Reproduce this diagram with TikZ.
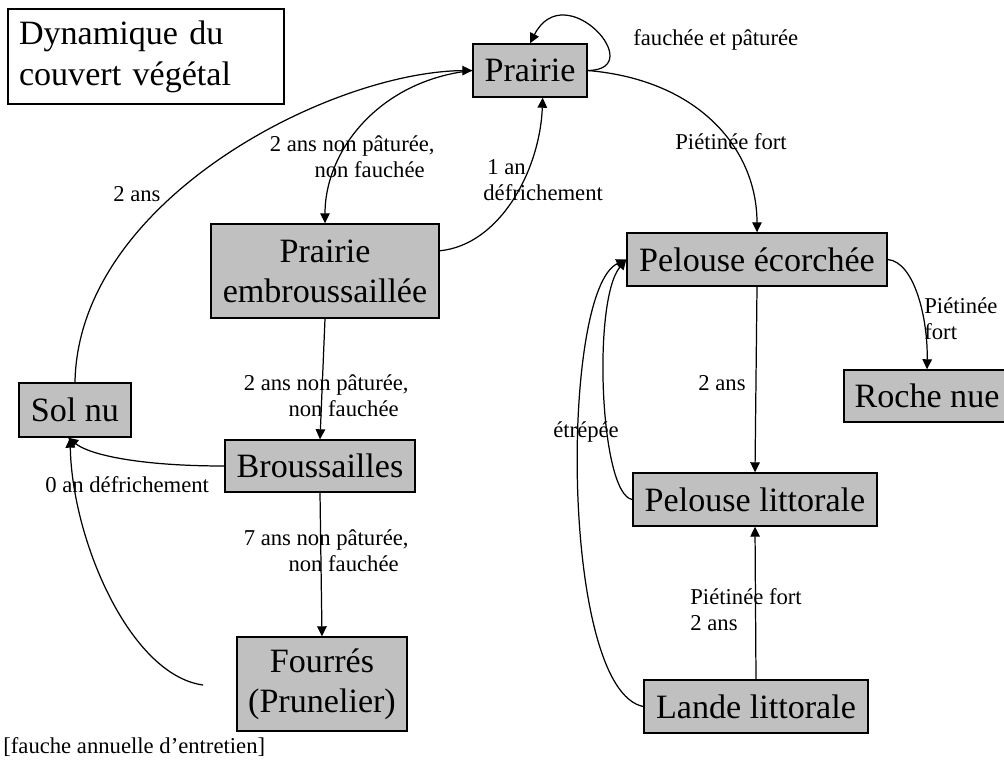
\documentclass[tikz,border=0pt]{standalone}
\usepackage{fontspec}
\setmainfont{Liberation Serif}
\usetikzlibrary{arrows.meta}
\definecolor{gris}{RGB}{192,192,192}

\begin{document}
\begin{tikzpicture}[x = 0.02cm, y = -0.02cm,
  etat/.style = {draw, fill = gris, line width = 0.8pt, inner sep = 0pt, align = center,
                 font = \fontsize{19.4}{22.8}\selectfont},
  lbl/.style = {inner sep = 0pt, font = \fontsize{12.9}{14.8}\selectfont},
  fl/.style = {line width = 0.7pt, -{Triangle[length = 5.7pt, width = 5.4pt]}}]
\useasboundingbox (0, 0) rectangle (1004, 760);
\clip (0, 0) rectangle (1004, 760);

\node[draw, line width = 0.8pt, minimum width = 5.52cm, minimum height = 1.9cm, text width = 5.08cm,
      inner xsep = 0.22cm, align = left, font = \fontsize{19.4}{23.3}\selectfont]
      (titre) at (146, 56.5) {Dynamique du\\couvert végétal};

\node[etat, minimum width = 2.28cm, minimum height = 1.06cm] (prairie)  at (530, 70.5)  {Prairie};
\node[etat, minimum width = 4.56cm, minimum height = 1.88cm] (embrous)  at (325, 271)   {Prairie\\embroussaillée};
\node[etat, minimum width = 5.2cm,  minimum height = 1.06cm] (ecorchee) at (757, 259.5) {Pelouse écorchée};
\node[etat, minimum width = 3.32cm, minimum height = 1.04cm] (roche)    at (927, 396)   {Roche nue};
\node[etat, minimum width = 2.24cm, minimum height = 1.08cm] (solnu)    at (75, 410)    {Sol nu};
\node[etat, minimum width = 3.8cm,  minimum height = 1.04cm] (brous)    at (320, 466)   {Broussailles};
\node[etat, minimum width = 3.4cm,  minimum height = 1.88cm] (fourres)  at (322, 684)   {Fourrés\\(Prunelier)};
\node[etat, minimum width = 4.88cm, minimum height = 1.06cm] (pelittor) at (755, 499.5) {Pelouse littorale};
\node[etat, minimum width = 4.48cm, minimum height = 1.06cm] (lande)    at (756, 706.5) {Lande littorale};
\coordinate (fourresG) at (203, 685);

\draw[fl] (prairie.east) .. controls (650, 70) and (565, -25) .. (prairie.north);
\draw[fl] (solnu.north) .. controls (78, 200) and (330, 72) .. (prairie.west);
\draw[fl] (prairie.west) .. controls (380, 80) and (325, 150) .. (embrous.north);
\draw[fl] (embrous.10) .. controls (500, 245) and (540, 170) .. (prairie.-65);
\draw[fl] (prairie.east) .. controls (700, 80) and (757, 150) .. (ecorchee.north);
\draw[fl] (ecorchee.east) .. controls (915, 262) and (928, 320) .. (roche.north);
\draw[fl] (ecorchee.south) -- (pelittor.north);
\draw[fl] (pelittor.west) .. controls (600, 495) and (592, 300) .. (ecorchee.west);
\draw[fl] (lande.west) .. controls (560, 690) and (560, 290) .. (ecorchee.west);
\draw[fl] (lande.north) -- (pelittor.south);
\draw[fl] (embrous.south) -- (brous.north);
\draw[fl] (brous.west) .. controls (140, 466) and (90, 455) .. (solnu.-104);
\draw[fl] (fourresG) .. controls (130, 675) and (72, 540) .. (solnu.-100);
\draw[fl] (brous.south) -- (fourres.north);

\node[lbl, anchor = base west] (lboucle) at (633, 46) {fauchée et pâturée};
\node[lbl, anchor = base west] (lsol) at (113, 202) {2 ans};
\node[lbl, anchor = north east, align = right] (lembrous) at (435, 135.5)
      {2 ans non pâturée,\\non fauchée\hspace*{5.7pt}};
\node[lbl, anchor = north west, align = left] (ldefr) at (483, 159.5)
      {\hspace*{2.3pt}1 an\\défrichement};
\node[lbl, anchor = base west] (lpiet) at (675, 150) {Piétinée fort};
\node[lbl, anchor = north west, align = left] (lroche) at (924, 297.5) {Piétinée\\fort};
\node[lbl, anchor = base west] (lecor) at (698, 390) {2 ans};
\node[lbl, anchor = base west] (letrep) at (553, 437) {étrépée};
\node[lbl, anchor = north west, align = left] (llande) at (690, 588.4) {Piétinée fort\\2 ans};
\node[lbl, anchor = north east, align = right] (lbrous) at (409, 374.3)
      {2 ans non pâturée,\\non fauchée\hspace*{5.7pt}};
\node[lbl, anchor = base west] (l0an) at (45, 492) {0 an défrichement};
\node[lbl, anchor = north east, align = right] (lfourres) at (409, 529.3)
      {7 ans non pâturée,\\non fauchée\hspace*{5.7pt}};
\node[lbl, anchor = base west] (lfauche) at (3, 753) {[fauche annuelle d’entretien]};
\end{tikzpicture}
\end{document}
